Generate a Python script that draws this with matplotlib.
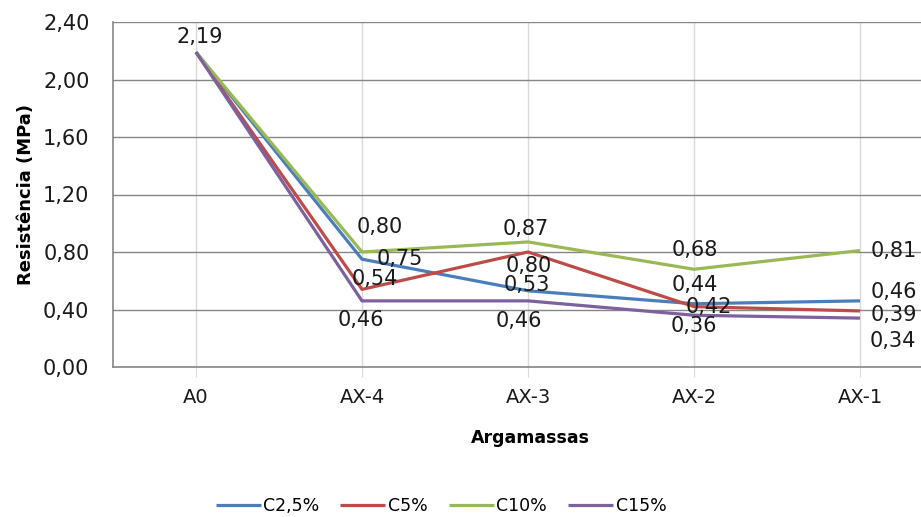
import numpy as np
import matplotlib.pyplot as plt

# Resistencia das argamassas por teor de substituicao
argamassas = ['A0', 'AX-4', 'AX-3', 'AX-2', 'AX-1']
c2_5 = [2.19, 0.75, 0.53, 0.44, 0.46]
c5 = [2.19, 0.54, 0.80, 0.42, 0.39]
c10 = [2.19, 0.80, 0.87, 0.68, 0.81]
c15 = [2.19, 0.46, 0.46, 0.36, 0.34]
yticks = [0.0, 0.4, 0.8, 1.2, 1.6, 2.0, 2.4]

series = [
    ('C2,5%', c2_5, '#4A7EBB'),
    ('C5%', c5, '#BE4B48'),
    ('C10%', c10, '#98B954'),
    ('C15%', c15, '#7D60A0'),
]

# deslocamento dos rotulos (pixels) por serie e ponto
offsets = {
    'C2,5%': [None, (38, 0), (-1, 6), (1, 19), (34, 9)],
    'C5%': [None, (13, 10), (1, -14), (15, 0), (34, -4)],
    'C10%': [(4, 15), (18, 25), (-2, 13), (1, 19), (34, 0)],
    'C15%': [None, (-1, -19), (-9, -20), (0, -11), (33, -23)],
}

def fmt(v):
    return ('%.2f' % v).replace('.', ',')

plt.rcParams['font.family'] = 'DejaVu Sans'

fig = plt.figure(figsize=(9.21, 5.17), dpi=100)
ax = fig.add_axes([113/921, 150/517, 830/921, 345/517])

x = np.arange(len(argamassas))
for name, vals, col in series:
    ax.plot(x, vals, color=col, lw=2.3, label=name, solid_capstyle='butt', zorder=3)

for name, vals, col in series:
    for i, v in enumerate(vals):
        off = offsets[name][i]
        if off is None:
            continue
        ax.annotate(fmt(v), (x[i], v), xytext=off, textcoords='offset pixels',
                    ha='center', va='center', fontsize=15, color='#1a1a1a', zorder=4)

ax.set_xlim(-0.5, len(argamassas) - 0.5)
ax.set_ylim(0, 2.4)
ax.set_yticks(yticks)
ax.set_yticklabels([fmt(t) for t in yticks], fontsize=15, color='#1a1a1a')
ax.set_xticks(x)
ax.set_xticklabels(argamassas, fontsize=14, color='#1a1a1a')

ax.grid(axis='y', color='#868686', lw=1)
ax.grid(axis='x', color='#D9D9D9', lw=1)
ax.set_axisbelow(True)
ax.tick_params(axis='y', length=0, pad=17)
ax.tick_params(axis='x', length=7, color='#D9D9D9', pad=8)

for s in ['top', 'right']:
    ax.spines[s].set_visible(False)
for s in ['left', 'bottom']:
    ax.spines[s].set_color('#868686')
    ax.spines[s].set_linewidth(1.2)

ax.set_ylabel('Resistência (MPa)', fontsize=13, fontweight='bold', labelpad=6)
fig.text(530/921, 1 - 438/517, 'Argamassas', fontsize=12.5, fontweight='bold',
         ha='center', va='center')

fig.legend(loc='center', bbox_to_anchor=(441/921, 1 - 506/517), ncol=4, frameon=False,
           fontsize=12.5, handlelength=2.6, handletextpad=0.15, columnspacing=1.2)

fig.savefig('out.png', dpi=100)
